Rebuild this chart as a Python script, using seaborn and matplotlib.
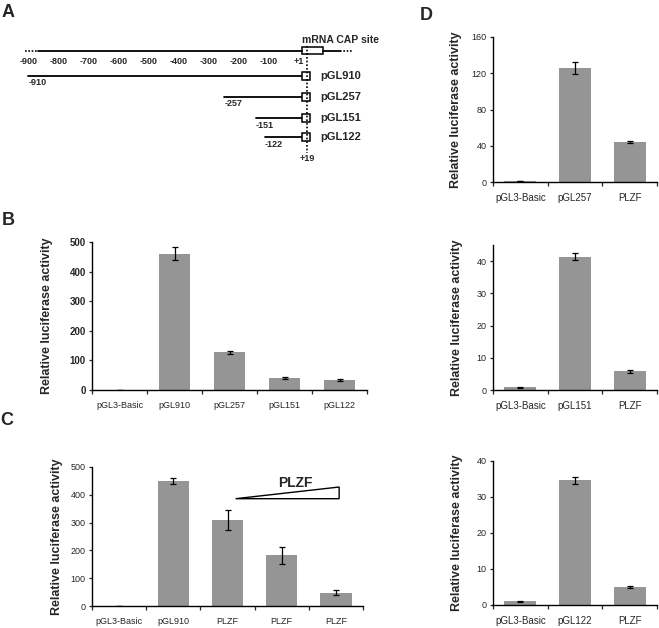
import numpy as np
import matplotlib
matplotlib.use('Agg')
import matplotlib.pyplot as plt
import seaborn as sns
from matplotlib.patches import Rectangle, Polygon

W, H = 659, 628
GRAY = '#959595'

# Panel A: promoter deletion constructs (positions in bp)
scale_pos = [-900, -800, -700, -600, -500, -400, -300, -200, -100, 1]
scale_labels = ['-900', '-800', '-700', '-600', '-500', '-400', '-300', '-200', '-100', '+1']
construct_names = ['pGL910', 'pGL257', 'pGL151', 'pGL122']
construct_starts = [-910, -257, -151, -122]
cap_site = 1
tss_end = 19

# Panel B
b_labels = ['pGL3-Basic', 'pGL910', 'pGL257', 'pGL151', 'pGL122']
b_values = [1, 460, 128, 41, 34]
b_errors = [0, 22, 5, 2.5, 2.5]

# Panel C
c_labels = ['pGL3-Basic', 'pGL910', 'PLZF', 'PLZF', 'PLZF']
c_values = [1, 450, 310, 182, 48]
c_errors = [0, 12, 37, 32, 10]

# Panel D
d1_labels = ['pGL3-Basic', 'pGL257', 'PLZF']
d1_values = [1, 126, 44]
d1_errors = [0.3, 6.5, 1.2]
d2_labels = ['pGL3-Basic', 'pGL151', 'PLZF']
d2_values = [0.9, 41.4, 5.8]
d2_errors = [0.15, 1.1, 0.4]
d3_labels = ['pGL3-Basic', 'pGL122', 'PLZF']
d3_values = [1.0, 34.6, 5.0]
d3_errors = [0.1, 1.0, 0.3]

sns.set_style('ticks')
plt.rcParams['font.family'] = ['Liberation Sans', 'DejaVu Sans']

fig = plt.figure(figsize=(W / 100, H / 100), dpi=100)


def px_axes(l, t, r, b):
    return fig.add_axes([l / W, 1 - b / H, (r - l) / W, (b - t) / H])


def bar_panel(ax, labels, values, errors, ymax, yticks, label_x,
              tick_bold=False, xfs=6.5, yfs=6.5):
    n = len(labels)
    pos = np.arange(n)
    sns.barplot(x=pos, y=values, color=GRAY, width=0.58, saturation=1,
                linewidth=0, errorbar=None, ax=ax)
    ax.errorbar(pos, values, yerr=errors, fmt='none', ecolor='black',
                elinewidth=0.9, capsize=2.2, capthick=0.9)
    ax.set_xlim(-0.5, n - 0.5)
    ax.set_ylim(0, ymax)
    ax.set_yticks(yticks)
    ax.set_xticks(pos)
    ax.set_xticklabels(labels, fontsize=xfs)
    ax.set_xticks(np.arange(n + 1) - 0.5, minor=True)
    ax.tick_params(axis='x', which='major', length=0, pad=8)
    ax.tick_params(axis='x', which='minor', length=3, width=0.9, direction='out')
    ax.tick_params(axis='y', length=2.5, width=0.9, pad=2, labelsize=yfs)
    if tick_bold:
        for t in ax.get_yticklabels():
            t.set_fontweight('bold')
    for s in ['top', 'right']:
        ax.spines[s].set_visible(False)
    for s in ['left', 'bottom']:
        ax.spines[s].set_linewidth(1.0)
        ax.spines[s].set_color('black')
    ax.set_xlabel('')
    ax.set_ylabel('Relative luciferase activity', fontsize=9, fontweight='bold')
    ax.yaxis.set_label_coords(label_x, 0.5)


# ---- Panel A schematic ----
axA = px_axes(0, 25, 380, 165)
axA.set_xlim((0 - 301.7) / 0.3 + cap_site, (380 - 301.7) / 0.3 + cap_site)
axA.set_ylim(165, 25)
axA.axis('off')

top_y = 50.5
axA.plot([-921, -878], [top_y, top_y], color='black', lw=1.2, ls=(0, (1, 1)))
axA.plot([-878, cap_site], [top_y, top_y], color='black', lw=1.3)
axA.add_patch(Rectangle((cap_site, top_y - 3.8), 72, 7.6, fc='white', ec='black', lw=1.1))
axA.plot([cap_site + 72, 129], [top_y, top_y], color='black', lw=1.3)
axA.plot([129, 170], [top_y, top_y], color='black', lw=1.2, ls=(0, (1, 1)))
axA.text(129, 40, 'mRNA CAP site', fontsize=7.5, fontweight='bold', ha='center', va='center')
for p, lab in zip(scale_pos, scale_labels):
    axA.text(p - 8, 61, lab, fontsize=6.5, fontweight='bold', ha='center', va='center')

rows = [75.7, 96.7, 118.3, 137.3]
for name, start, y in zip(construct_names, construct_starts, rows):
    axA.plot([start, cap_site], [y, y], color='black', lw=1.3)
    axA.add_patch(Rectangle((cap_site, y - 4.1), 26, 8.2, fc='white', ec='black', lw=1.1, zorder=3))
    axA.text(start, y + 7, str(start), fontsize=6.5, fontweight='bold', ha='left', va='center')
    axA.text(63, y, name, fontsize=8, fontweight='bold', ha='left', va='center')
axA.plot([tss_end, tss_end], [46, 153], color='black', lw=1.2, ls=(0, (1, 1.2)), zorder=4)
axA.text(tss_end, 158.5, '+19', fontsize=6.5, fontweight='bold', ha='center', va='center')

# ---- Panel B ----
axB = px_axes(92, 242, 367, 390)
bar_panel(axB, b_labels, b_values, b_errors, 500, range(0, 501, 100), -0.142, tick_bold=True, yfs=7)

# ---- Panel C ----
axC = px_axes(92, 467, 363, 606)
bar_panel(axC, c_labels, c_values, c_errors, 500, range(0, 501, 100), -0.107)
axC.add_patch(Polygon([(2.15, 386), (4.06, 428), (4.06, 386)], closed=True,
                      fc='white', ec='black', lw=1.0))
axC.text(3.26, 441, 'PLZF', fontsize=10, fontweight='bold', ha='center', va='center')

# ---- Panel D ----
axD1 = px_axes(493, 37, 657, 182)
bar_panel(axD1, d1_labels, d1_values, d1_errors, 160, range(0, 161, 40), -0.189, xfs=7)
axD2 = px_axes(493, 245, 657, 390)
bar_panel(axD2, d2_labels, d2_values, d2_errors, 45, range(0, 41, 10), -0.183, xfs=7)
axD3 = px_axes(493, 461, 657, 605)
bar_panel(axD3, d3_labels, d3_values, d3_errors, 40, range(0, 41, 10), -0.183, xfs=7)

# panel letters
for letter, x, y in [('A', 2, 17), ('B', 2, 225), ('C', 0, 425), ('D', 420, 20)]:
    fig.text(x / W, 1 - y / H, letter, fontsize=13, fontweight='bold', ha='left', va='baseline')

fig.savefig('out.png', dpi=100)
